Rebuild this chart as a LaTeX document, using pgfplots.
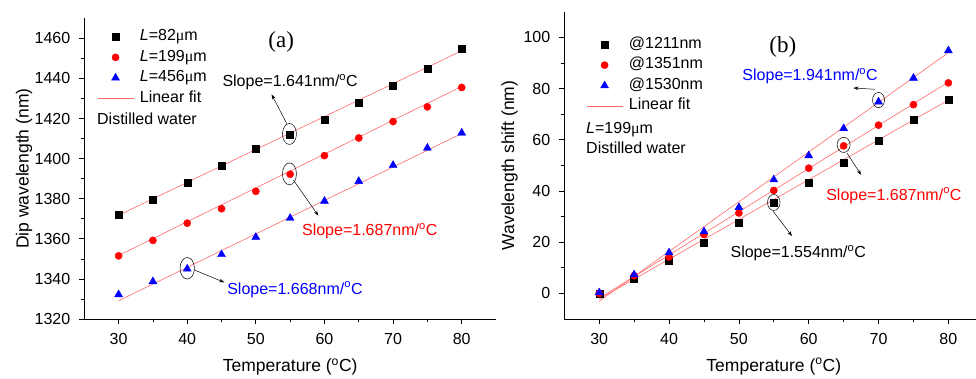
\documentclass[border=0pt]{standalone}
\usepackage{pgfplots}
\pgfplotsset{compat=1.18}
\usetikzlibrary{arrows.meta}
\usepackage{fontspec}
\setmainfont{Liberation Sans}
\newfontfamily\serif{Liberation Serif}
\newcommand{\um}{{\serif μ}m}
\definecolor{fitred}{RGB}{255,105,105}
\newcommand{\fs}{\fontsize{16}{16}\selectfont}

\tikzset{
  ann/.style={black, line width=0.5pt},
  arr/.style={black, line width=0.5pt, -{Stealth[length=5pt,width=3.5pt]}},
}
\pgfplotsset{
  legend image code/.code={\draw[mark repeat=2,mark phase=2,#1] plot coordinates {(0pt,0pt) (18pt,0pt) (36pt,0pt)};},
  myaxis/.style={
    scale only axis, anchor=south west,
    axis lines=left, x axis line style={-}, y axis line style={-},
    xmin=25, xmax=85, xtick={30,40,...,80}, minor x tick num=1, minor y tick num=1,
    tick align=outside, major tick length=5.5pt, minor tick length=3.5pt,
    tick style={black, line width=0.7pt}, axis line style={line width=0.7pt},
    /pgf/number format/assume math mode=true, /pgf/number format/1000 sep={},
    tick label style={font=\fs},
    xticklabel style={yshift=-5pt}, yticklabel style={xshift=-5pt},
    label style={font=\fontsize{17.5}{17.5}\selectfont},
    xlabel={Temperature (\textsuperscript{o}C)},
    clip=false,
    legend cell align=left,
    legend style={draw=none, fill=none, anchor=north west, inner sep=0pt, row sep=6pt, column sep=6pt,
      font=\fs, nodes={inner sep=0pt, text height=11pt, text depth=3.5pt}},
  },
  sq/.style={only marks, mark=square*, mark size=3.5pt, black},
  ci/.style={only marks, mark=*, mark size=3.6pt, red},
  tr/.style={only marks, mark=triangle*, mark size=4.6pt, blue},
  fitline/.style={fitred, line width=0.6pt, forget plot},
}

\begin{document}
\begin{tikzpicture}
\path[use as bounding box] (0pt,0pt) rectangle (976pt,379pt);

% ---------------- (a) ----------------
\begin{axis}[myaxis,
  at={(84.3pt,60pt)}, width=411.7pt, height=300.7pt,
  ymin=1320, ymax=1470, ytick={1320,1340,...,1460},
  ylabel={Dip wavelength (nm)},
  ylabel style={at={(axis description cs:-0.1465,0.5)}, anchor=center},
  xlabel style={at={(axis description cs:0.5,-0.1586)}, anchor=center},
  legend style={at={(axis description cs:0.031,0.963)}},
]
\addplot[fitline] coordinates {(30,1371.75) (80,1453.8)};
\addplot[fitline] coordinates {(30,1351.65) (80,1436.0)};
\addplot[fitline] coordinates {(30,1329.1) (80,1412.5)};
\addplot[sq] coordinates {(30,1371.8) (35,1379.5) (40,1387.8) (45,1396.3) (50,1405.0) (55,1412.1) (60,1419.6) (65,1428.1) (70,1436.5) (75,1445.0) (80,1454.6)};
\addlegendentry{\textit{L}=82\um}
\addplot[ci] coordinates {(30,1351.5) (35,1359.2) (40,1367.8) (45,1375.0) (50,1383.7) (55,1392.2) (60,1401.5) (65,1410.3) (70,1418.5) (75,1425.8) (80,1435.5)};
\addlegendentry{\textit{L}=199\um}
\addplot[tr] coordinates {(30,1332.2) (35,1338.7) (40,1345.0) (45,1352.2) (50,1360.8) (55,1370.3) (60,1378.8) (65,1388.7) (70,1396.7) (75,1405.3) (80,1412.8)};
\addlegendentry{\textit{L}=456\um}
\addlegendimage{fitred, line width=0.6pt}
\addlegendentry{Linear fit}

\node[anchor=base west, inner sep=0pt, font=\fs] at (axis cs:26.85,1417.15) {Distilled water};
\node[font=\serif\fontsize{23}{23}\selectfont] at (axis cs:53.7,1458) {(a)};

\draw[ann] (axis cs:54.9,1412.3) ellipse [x radius=7pt, y radius=10.5pt];
\draw[ann] (axis cs:54.9,1392.4) ellipse [x radius=7pt, y radius=11pt];
\draw[ann] (axis cs:40,1345.3) ellipse [x radius=7.2pt, y radius=10.8pt];

\draw[arr] (axis cs:54.5,1417.5) -- (axis cs:52.3,1432);
\draw[arr] (axis cs:55.5,1389.2) -- (axis cs:59.1,1371.6);
\draw[arr] (axis cs:41.0,1344.5) -- (axis cs:45.4,1338.3);

\node[font=\fs] at (axis cs:55.0,1438.3) {Slope=1.641nm/\textsuperscript{o}C};
\node[font=\fs, red] at (axis cs:66.6,1363.7) {Slope=1.687nm/\textsuperscript{o}C};
\node[font=\fs, blue] at (axis cs:55.7,1334.6) {Slope=1.668nm/\textsuperscript{o}C};
\end{axis}

% ---------------- (b) ----------------
\begin{axis}[myaxis,
  at={(564.3pt,60pt)}, width=419pt, height=307.3pt,
  ymin=-10, ymax=110, ytick={0,20,...,100},
  ylabel={Wavelength shift (nm)},
  ylabel style={at={(axis description cs:-0.1308,0.5)}, anchor=center},
  xlabel style={at={(axis description cs:0.5,-0.155)}, anchor=center},
  legend style={at={(axis description cs:0.052,0.917)}},
]
\addplot[fitline] coordinates {(30,-2.2) (80,75.5)};
\addplot[fitline] coordinates {(30,-1.85) (80,82.5)};
\addplot[fitline] coordinates {(30,-3.05) (80,94.0)};
\addplot[sq] coordinates {(30,0) (35,5.8) (40,12.7) (45,19.8) (50,27.6) (55,35.3) (60,43.1) (65,51.2) (70,59.5) (75,67.7) (80,75.7)};
\addlegendentry{@1211nm}
\addplot[ci] coordinates {(30,0) (35,6.9) (40,14.2) (45,23.0) (50,31.4) (55,40.2) (60,48.9) (65,57.6) (70,65.7) (75,73.7) (80,82.2)};
\addlegendentry{@1351nm}
\addplot[tr] coordinates {(30,0.3) (35,7.3) (40,15.9) (45,24.1) (50,33.6) (55,44.4) (60,53.8) (65,64.4) (70,74.8) (75,84.1) (80,94.8)};
\addlegendentry{@1530nm}
\addlegendimage{fitred, line width=0.6pt}
\addlegendentry{Linear fit}

\node[anchor=base west, inner sep=0pt, font=\fs] at (axis cs:28.11,62.5) {\textit{L}=199\um};
\node[anchor=base west, inner sep=0pt, font=\fs] at (axis cs:28.11,54.7) {Distilled water};
\node[font=\serif\fontsize{23}{23}\selectfont] at (axis cs:56.3,96.2) {(b)};

\draw[ann] (axis cs:70,75.5) ellipse [x radius=6pt, y radius=7.6pt];
\draw[ann] (axis cs:65,58) ellipse [x radius=6.5pt, y radius=7.6pt];
\draw[ann] (axis cs:55,35.5) ellipse [x radius=6.3pt, y radius=8pt];

\draw[arr] (axis cs:69.5,79.7) -- (axis cs:66.4,80.2);
\draw[arr] (axis cs:65.5,54.7) -- (axis cs:67.5,46.3);
\draw[arr] (axis cs:54.9,32.1) -- (axis cs:57.6,22.4);

\node[font=\fs, blue] at (axis cs:60.2,84.8) {Slope=1.941nm/\textsuperscript{o}C};
\node[font=\fs, red] at (axis cs:72.2,38.2) {Slope=1.687nm/\textsuperscript{o}C};
\node[font=\fs] at (axis cs:58.5,15.6) {Slope=1.554nm/\textsuperscript{o}C};
\end{axis}
\end{tikzpicture}
\end{document}
